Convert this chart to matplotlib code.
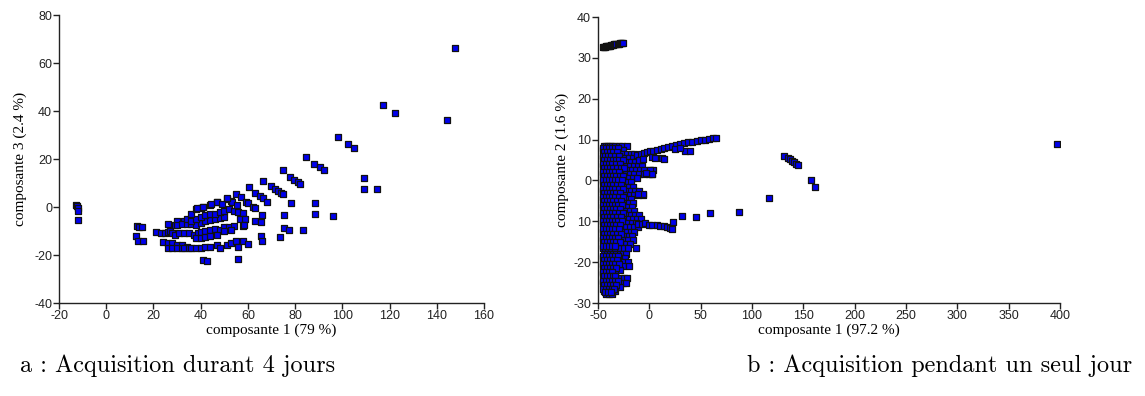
import matplotlib
matplotlib.use("Agg")
import matplotlib.pyplot as plt

plt.rcParams["axes.unicode_minus"] = False

# --- panel a: 4 days (composante 1 vs composante 3) ---
a_x = [-13, -12.5, -12, -12, -12,
       13, 14, 15, 12.5, 13.5, 15.5,
       21, 23, 25, 26, 27, 28, 29, 31, 33, 35, 37, 39, 40, 42, 44, 46, 48, 50, 52, 54, 58,
       24, 26, 28, 30, 32, 34,
       26, 28, 30, 32, 33, 35, 36, 38, 40, 42, 44, 47, 48, 51, 53, 55, 56, 58, 60,
       38, 40, 42, 44, 47, 50, 53,
       26, 29, 30, 33, 30, 32, 34, 36, 38, 40, 42, 44, 46, 48, 50,
       34, 36, 38, 40, 42, 44, 46, 48, 50, 52, 54, 56, 58,
       36, 38, 40, 41, 44, 47, 51, 53, 55, 57, 59, 60, 62, 63,
       41, 42.5, 56,
       47, 49, 44.5, 53.4, 55.3, 51.3, 38.3, 40.9,
       66, 75.2, 88.6, 96.2, 63, 65.4, 56.7, 58.8, 58.5,
       75.3, 77.6, 83.5, 73.7, 65.6, 66,
       60.3, 62.9, 65, 66.4, 68, 78.3, 88.6,
       66.5, 69.6, 71.5, 72.8, 74, 74.7,
       74.7, 77.7, 79.7, 81.2, 81.9,
       84.5, 87.9, 90.4, 92.1,
       98.3, 102.5, 104.9, 109, 109, 114.7,
       117.4, 122.4, 144.5, 147.6]
a_y = [1, 0.5, -0.5, -1.5, -5.5,
       -8, -8.5, -8.5, -12, -14, -14,
       -10.5, -11, -11, -10.5, -10, -11, -11.5, -11, -11, -11, -11.5, -11, -10.5, -10, -9.5, -9, -9.5, -8.5, -8.5, -8, -8,
       -14.5, -15, -15, -16, -16, -16.5,
       -17, -17, -17, -17, -17, -17, -17, -17, -17, -16.5, -16.5, -16, -17, -16, -15, -14, -16.5, -14, -15.5,
       -13, -13, -12.5, -12, -11.5, -10, -9.5,
       -7, -7.4, -6, -6, -7.5, -7, -7, -7, -7.5, -6.5, -6, -5.5, -5, -4.5, -4,
       -5, -6, -5, -4, -3.5, -3, -3, -2, -1.5, -1, -1.5, -2, -2.5,
       -3, -1, -0.5, 0, 1, 2, 3.5, 2.5, 5.3, 4, 2, 1.5, 0, -0.5,
       -22, -22.7, -21.7,
       2.2, 1.1, 1.1, 2.2, 0.8, 3.9, -0.6, 0,
       -3.3, -3.2, -3.1, -3.8, -6, -6.4, -5, -5, -7.4,
       -8.6, -9.7, -9.7, -12.4, -12, -14.3,
       8.2, 6, 4.6, 3.9, 2.2, 1.7, 1.7,
       10.8, 8.8, 7.4, 6.5, 6, 5.4,
       15.3, 12.5, 11.1, 10.4, 9.5,
       20.7, 17.9, 16.6, 15.3,
       29.3, 26.1, 24.5, 12, 7.5, 7.5,
       42.4, 39.1, 36.4, 66.2]

# --- panel b: 1 day (composante 1 vs composante 2) ---
# dense band next to the y axis, one row per y level
band_y = [8.5, 7.5, 6.5, 5.5, 4.5, 3.5, 2.5, 1.5, 0.5, -0.5, -1.5, -2.5, -3.5, -4.5,
          -5.5, -6.5, -7.5, -8.5, -9.5, -10.5, -11.5, -12.5, -13.5, -14.5, -15.5,
          -16.5, -18.0, -19.0, -20.0, -21.0, -22.0, -23.0, -24.0, -25.0, -26.0,
          -27.0, -27.8]
band_x = [
    [-44, -42, -40, -38, -36, -33, -30, -27, -22],
    [-45, -43, -41, -39, -37, -35, -32, -29, -26],
    [-44, -42, -40, -37, -34, -31, -27, -22, -18, -15],
    [-45, -43, -40, -38, -35, -32, -28, -24, -20, -16, -12],
    [-44, -41, -39, -36, -33, -30, -26, -22, -18, -14],
    [-45, -42, -40, -37, -34, -30, -27, -23, -19, -15, -11, -7],
    [-44, -41, -38, -35, -32, -29, -25, -21, -17, -13, -9, -5, 1, 4],
    [-45, -43, -40, -37, -34, -31, -27, -23, -19, -15, -10, -5, 0, 3],
    [-44, -41, -38, -35, -32, -28, -24, -20, -16, -12],
    [-45, -42, -39, -36, -33, -29, -25, -21, -18],
    [-44, -41, -38, -35, -32, -28, -24, -20, -16],
    [-45, -42, -39, -36, -33, -30, -26, -22, -18, -14, -10],
    [-44, -41, -38, -35, -31, -27, -23, -19, -15, -11, -6],
    [-45, -43, -40, -37, -34, -30, -26, -22, -18],
    [-44, -41, -38, -35, -32, -28, -24, -20, -16],
    [-45, -42, -39, -36, -33, -29, -25, -21, -17],
    [-44, -41, -38, -35, -31, -27, -23, -19, -15],
    [-45, -43, -40, -37, -34, -30, -26, -22, -18, -14, -10],
    [-44, -41, -38, -35, -32, -28, -24, -20, -16, -12, -8],
    [-45, -42, -39, -36, -33, -29, -25, -21, -17, -13],
    [-44, -41, -38, -35, -31, -27, -23, -19, -15, -11],
    [-45, -43, -40, -37, -34, -30, -26, -22, -18, -15],
    [-44, -41, -38, -35, -32, -28, -24, -20, -17],
    [-45, -42, -39, -36, -33, -29, -25, -21, -16],
    [-44, -41, -38, -35, -31, -27, -23, -19],
    [-45, -43, -40, -37, -33, -29, -25, -21, -13],
    [-44, -41, -38, -35, -32, -29, -26, -23],
    [-45, -42, -39, -36, -33, -30, -27, -24],
    [-44, -41, -38, -35, -32, -28, -25, -21],
    [-45, -42, -39, -36, -33, -30, -26, -20],
    [-44, -41, -38, -35, -32, -29],
    [-45, -42, -39, -36, -33],
    [-44, -41, -38, -35, -32, -28, -25, -22],
    [-45, -42, -39, -36, -33, -30, -26, -23],
    [-44, -41, -38, -35, -32, -29],
    [-44, -41, -38, -35, -33],
    [-42, -39, -36],
]
# second, overlapping set of points in the left part of the band
band2_y = [8.0, 7.0, 6.0, 5.0, 4.0, 3.0, 2.0, 1.0, 0.0, -1.0, -2.0, -3.0, -4.0, -5.0,
           -6.0, -7.0, -8.0, -9.0, -10.0, -11.0, -12.0, -13.0, -14.0, -15.0, -16.0,
           -18.5, -19.5, -20.5, -21.5, -22.5, -23.5, -24.5, -25.5, -26.5, -27.4]
band2_x = [
    [-45.5, -42.5, -39.5, -36.5, -33.5, -30.5],
    [-44.5, -41.5, -38.5, -35.5, -31.5],
    [-45.5, -43.5, -40.5, -37.5, -33.5, -29.5],
    [-44.5, -41.5, -38.5, -35.5, -32.5, -29.5, -25.5],
    [-45.5, -42.5, -39.5, -36.5, -32.5, -28.5],
    [-44.5, -41.5, -38.5, -35.5, -31.5, -27.5, -24.5],
    [-45.5, -42.5, -39.5, -36.5, -33.5, -29.5],
    [-44.5, -41.5, -38.5, -35.5, -32.5, -28.5, -25.5],
    [-45.5, -42.5, -39.5, -36.5, -33.5, -30.5, -26.5],
    [-44.5, -41.5, -38.5, -35.5, -31.5, -27.5],
    [-45.5, -42.5, -39.5, -36.5, -33.5, -29.5, -25.5],
    [-44.5, -41.5, -38.5, -35.5, -32.5, -28.5],
    [-45.5, -42.5, -39.5, -36.5, -33.5, -29.5, -25.5],
    [-44.5, -41.5, -38.5, -35.5, -31.5, -27.5],
    [-45.5, -42.5, -39.5, -36.5, -33.5, -30.5, -26.5],
    [-44.5, -41.5, -38.5, -35.5, -32.5, -28.5],
    [-45.5, -42.5, -39.5, -36.5, -33.5, -29.5, -25.5],
    [-44.5, -41.5, -38.5, -35.5, -31.5, -27.5],
    [-45.5, -42.5, -39.5, -36.5, -33.5, -30.5, -26.5],
    [-44.5, -41.5, -38.5, -35.5, -32.5, -28.5],
    [-45.5, -42.5, -39.5, -36.5, -33.5, -29.5],
    [-44.5, -41.5, -38.5, -35.5, -31.5, -27.5],
    [-45.5, -42.5, -39.5, -36.5, -33.5, -30.5],
    [-44.5, -41.5, -38.5, -35.5, -32.5, -28.5],
    [-45.5, -42.5, -39.5, -36.5, -33.5],
    [-45.5, -42.5, -39.5, -36.5, -33.5, -30.5],
    [-44.5, -41.5, -38.5, -35.5, -31.5],
    [-45.5, -42.5, -39.5, -36.5, -33.5, -29.5],
    [-44.5, -41.5, -38.5, -35.5, -32.5],
    [-45.5, -42.5, -39.5, -36.5],
    [-44.5, -41.5, -38.5, -35.5, -33.5],
    [-45.5, -42.5, -39.5, -36.5, -33.5, -30.5],
    [-44.5, -41.5, -38.5, -35.5, -32.5],
    [-45.5, -42.5, -39.5, -36.5, -34.5],
    [-43.5, -40.5, -37.5],
]

# isolated group near composante 2 = 33
top_x = [-45, -44, -43, -42, -41, -40, -39, -38, -37, -36, -35, -34, -33, -32, -31,
         -30, -29, -28, -27, -26]
top_y = [32.6, 32.7, 32.7, 32.8, 32.8, 32.9, 33.0, 33.0, 33.1, 33.2, 33.2, 33.3, 33.3,
         33.4, 33.5, 33.5, 33.6, 33.6, 33.7, 33.7]

# branches and outliers
arm_x = [-12, -8, -5, -2, 1, 4, 7, 11, 14, 18, 22, 26, 30, 34, 38, 42, 46, 50, 54, 58, 62, 65,
         -10, -6, 3, 6, 12, 14, 35, 40, 25, 30,
         1, 3, -3, -6, -11,
         -11, -7, -4, 0, 3, 7, 10, 14, 17, 20, 22, 23, 32, 45, 59, 87, 117,
         131.5, 135.2, 137, 138.9, 140.7, 142.5, 144.8, 157.3, 161.4,
         397.4]
arm_y = [6.2, 6.5, 6.7, 6.9, 7.1, 7.3, 7.5, 7.7, 7.9, 8.1, 8.4, 8.7, 8.9, 9.1, 9.3, 9.5, 9.7,
         9.9, 10.0, 10.1, 10.3, 10.4,
         5, 5.3, 5.8, 5.6, 5.5, 5.3, 7.2, 7.2, 7.7, 8,
         2.5, 1.6, 1.8, -3.3, -3.3,
         -10.7, -10.6, -10.5, -10.8, -10.9, -11, -11.1, -11.2, -11.4, -11.6, -11.8, -10.2,
         -8.8, -9, -8, -7.7, -4.2,
         5.9, 5.6, 5.2, 4.8, 4.4, 4.1, 3.7, 0, -1.7,
         8.8]

a_xticks = [-20, 0, 20, 40, 60, 80, 100, 120, 140, 160]
a_yticks = [-40, -20, 0, 20, 40, 60, 80]
b_xticks = [-50, 0, 50, 100, 150, 200, 250, 300, 350, 400]
b_yticks = [-30, -20, -10, 0, 10, 20, 30, 40]
b_yticklabels = ["-30", "-20", "10", "0", "10", "20", "30", "40"]

FILL = "#0000ee"
EDGE = "#111111"
MSIZE = 22
TICK_FONT = dict(family="Liberation Sans", size=9)
LABEL_FONT = dict(family="Liberation Serif", size=11)


def style_axes(ax):
    for side in ("top", "right"):
        ax.spines[side].set_visible(False)
    for side in ("left", "bottom"):
        ax.spines[side].set_linewidth(1.0)
        ax.spines[side].set_color("#222222")
    ax.tick_params(direction="out", length=4, width=1.0, colors="#222222", pad=1)
    for lab in ax.get_xticklabels() + ax.get_yticklabels():
        lab.set_fontfamily(TICK_FONT["family"])
        lab.set_fontsize(TICK_FONT["size"])


def flatten_rows(ys, rows):
    xs_out, ys_out = [], []
    for yv, row in zip(ys, rows):
        for xv in row:
            xs_out.append(xv)
            ys_out.append(yv)
    return xs_out, ys_out


fig = plt.figure(figsize=(11.45, 3.96), dpi=100)

# panel a
ax1 = fig.add_axes([59 / 1145, 93 / 396, 425 / 1145, 288 / 396])
ax1.scatter(a_x, a_y, marker="s", s=MSIZE, c=FILL, edgecolors=EDGE, linewidths=0.9, zorder=3)
ax1.set_xlim(-20, 160)
ax1.set_ylim(-40, 80)
ax1.set_xticks(a_xticks)
ax1.set_yticks(a_yticks)
style_axes(ax1)
ax1.set_xlabel("composante 1 (79 %)", **LABEL_FONT, labelpad=1)
ax1.set_ylabel("composante 3 (2.4 %)", **LABEL_FONT)
ax1.yaxis.set_label_coords(-0.075, 0.5)

# panel b
ax2 = fig.add_axes([598 / 1145, 93 / 396, 462 / 1145, 286 / 396])
bx, by = flatten_rows(band_y, band_x)
bx2, by2 = flatten_rows(band2_y, band2_x)
ax2.scatter(top_x, top_y, marker="s", s=MSIZE, c=FILL, edgecolors=EDGE, linewidths=0.9, zorder=3)
ax2.scatter(bx, by, marker="s", s=MSIZE, c=FILL, edgecolors=EDGE, linewidths=0.9, zorder=3)
ax2.scatter(bx2, by2, marker="s", s=MSIZE, c=FILL, edgecolors=EDGE, linewidths=0.9, zorder=3)
ax2.scatter(arm_x, arm_y, marker="s", s=MSIZE, c=FILL, edgecolors=EDGE, linewidths=0.9, zorder=3)
ax2.set_xlim(-50, 400)
ax2.set_ylim(-30, 40)
ax2.set_xticks(b_xticks)
ax2.set_yticks(b_yticks)
ax2.set_yticklabels(b_yticklabels)
style_axes(ax2)
ax2.set_xlabel("composante 1 (97.2 %)", **LABEL_FONT, labelpad=1)
ax2.set_ylabel("composante 2 (1.6 %)", **LABEL_FONT)
ax2.yaxis.set_label_coords(-0.062, 0.5)

# captions
fig.text(178 / 1145, 1 - 366 / 396, "a : Acquisition durant 4 jours",
         family="cmr10", size=17.5, ha="center", va="center")
fig.text(940 / 1145, 1 - 366 / 396, "b : Acquisition pendant un seul jour",
         family="cmr10", size=17.5, ha="center", va="center")

fig.savefig("out.png", dpi=100)
